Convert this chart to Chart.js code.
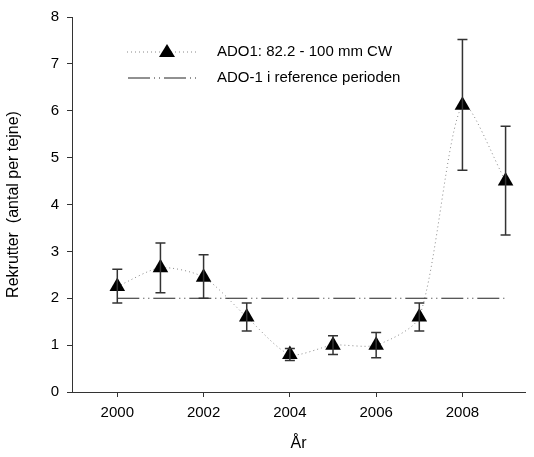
<!DOCTYPE html>
<html>
<head>
<meta charset="utf-8">
<script src="https://cdn.jsdelivr.net/npm/chart.js@4/dist/chart.umd.min.js"></script>
<style>
  html, body { margin: 0; padding: 0; background: #fff; }
  #wrap { width: 534px; height: 457px; }
</style>
</head>
<body>
<div id="wrap"><canvas id="chart"></canvas></div>
<script>
const years = [2000, 2001, 2002, 2003, 2004, 2005, 2006, 2007, 2008, 2009];
const recruits = [2.25, 2.65, 2.45, 1.6, 0.8, 1.0, 1.0, 1.6, 6.12, 4.5];
const errLow = [1.9, 2.12, 2.0, 1.3, 0.67, 0.8, 0.73, 1.3, 4.73, 3.35];
const errHigh = [2.62, 3.18, 2.93, 1.9, 0.93, 1.2, 1.27, 1.9, 7.52, 5.67];
const refYears = [2000, 2009];
const refLevel = [2, 2];
const xTicks = [2000, 2002, 2004, 2006, 2008];
const seriesLabel = "ADO1: 82.2 - 100 mm CW";
const refLabel = "ADO-1 i reference perioden";

const FONT = "'Liberation Sans', Arial, sans-serif";

const errorBars = {
  id: "errorBars",
  afterDatasetsDraw(chart) {
    const { ctx, scales: { x, y } } = chart;
    ctx.save();
    ctx.strokeStyle = "#333";
    ctx.lineWidth = 1.5;
    years.forEach((yr, i) => {
      const px = x.getPixelForValue(yr);
      const top = y.getPixelForValue(errHigh[i]);
      const bot = y.getPixelForValue(errLow[i]);
      ctx.beginPath();
      ctx.moveTo(px, top); ctx.lineTo(px, bot);
      ctx.moveTo(px - 5, top); ctx.lineTo(px + 5, top);
      ctx.moveTo(px - 5, bot); ctx.lineTo(px + 5, bot);
      ctx.stroke();
    });
    ctx.restore();
  }
};

const legendBox = {
  id: "legendBox",
  afterDraw(chart) {
    const { ctx } = chart;
    ctx.save();
    ctx.font = "15px " + FONT;
    ctx.fillStyle = "#000";
    ctx.textBaseline = "middle";
    // series sample
    ctx.strokeStyle = "#888";
    ctx.lineWidth = 1;
    ctx.setLineDash([1, 3]);
    ctx.beginPath(); ctx.moveTo(127, 52); ctx.lineTo(198, 52); ctx.stroke();
    ctx.setLineDash([]);
    ctx.beginPath();
    ctx.moveTo(167, 44); ctx.lineTo(175, 57); ctx.lineTo(159, 57); ctx.closePath();
    ctx.fill();
    ctx.fillText(seriesLabel, 217, 52);
    // reference sample
    ctx.strokeStyle = "#222";
    ctx.setLineDash([22, 4, 1, 4, 1, 4]);
    ctx.beginPath(); ctx.moveTo(128, 78); ctx.lineTo(198, 78); ctx.stroke();
    ctx.setLineDash([]);
    ctx.fillText(refLabel, 217, 78);
    ctx.restore();
  }
};

new Chart(document.getElementById("chart"), {
  type: "line",
  data: {
    datasets: [
      {
        label: refLabel,
        data: refYears.map((v, i) => ({ x: v, y: refLevel[i] })),
        borderColor: "#222",
        borderWidth: 1,
        borderDash: [22, 4, 1, 4, 1, 4],
        pointRadius: 0,
        fill: false
      },
      {
        label: seriesLabel,
        data: years.map((v, i) => ({ x: v, y: recruits[i] })),
        borderColor: "#888",
        borderWidth: 1,
        borderDash: [1, 3],
        tension: 0.25,
        pointStyle: "triangle",
        pointRadius: 9,
        pointBackgroundColor: "#000",
        pointBorderColor: "#000",
        pointBorderWidth: 0,
        fill: false
      }
    ]
  },
  options: {
    responsive: true,
    maintainAspectRatio: false,
    animation: false,
    layout: { padding: { top: 15, right: 0, left: 0, bottom: 0 } },
    plugins: {
      legend: { display: false },
      tooltip: { enabled: false }
    },
    scales: {
      x: {
        type: "linear",
        min: 1998.95,
        max: 2009.45,
        afterBuildTicks(axis) { axis.ticks = xTicks.map(v => ({ value: v })); },
        afterFit(axis) { axis.height = 65; },
        grid: { display: true, drawOnChartArea: false, tickLength: 5, color: "#333" },
        border: { display: true, color: "#333", width: 1 },
        ticks: { color: "#000", font: { family: FONT, size: 15 }, padding: 7, callback: v => String(v) },
        title: { display: true, text: "År", color: "#000", font: { family: FONT, size: 16 }, padding: { top: 12 } }
      },
      y: {
        min: 0,
        max: 8,
        afterFit(axis) { axis.width = 72; },
        grid: { display: true, drawOnChartArea: false, tickLength: 5, color: "#333" },
        border: { display: true, color: "#333", width: 1 },
        ticks: { stepSize: 1, color: "#000", font: { family: FONT, size: 15 }, padding: 8 },
        title: { display: true, text: "Rekrutter  (antal per tejne)", color: "#000", font: { family: FONT, size: 16 }, padding: { bottom: 6 } }
      }
    }
  },
  plugins: [errorBars, legendBox]
});
</script>
</body>
</html>
